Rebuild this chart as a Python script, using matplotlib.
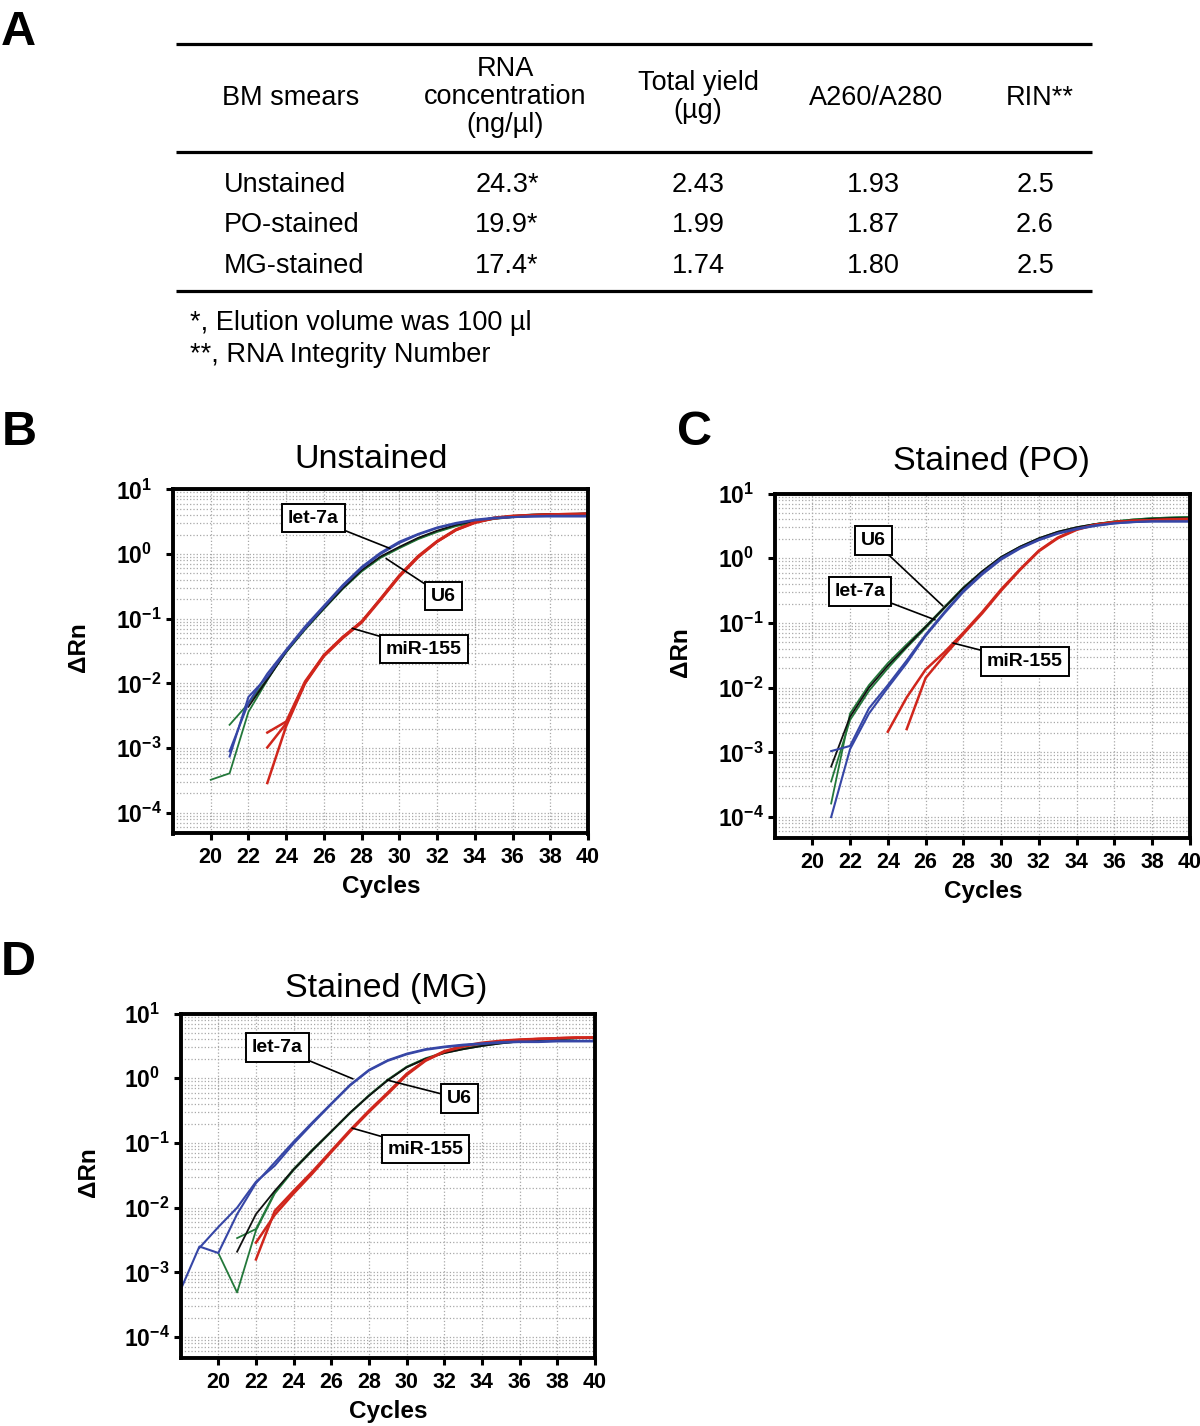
import numpy as np
import matplotlib
matplotlib.use("Agg")
import matplotlib.pyplot as plt
from matplotlib.ticker import LogLocator, NullFormatter

plt.rcParams['font.family'] = ['Liberation Sans', 'DejaVu Sans']
plt.rcParams['mathtext.fontset'] = 'custom'
plt.rcParams['mathtext.rm'] = 'Liberation Sans'
plt.rcParams['mathtext.bf'] = 'Liberation Sans:bold'

nan = np.nan

# ---- panel A table ----
smears = ['Unstained', 'PO-stained', 'MG-stained']
rna_conc = [24.3, 19.9, 17.4]          # ng/ul, marked with *
total_yield = [2.43, 1.99, 1.74]       # ug
a260_a280 = [1.93, 1.87, 1.80]
rin = [2.5, 2.6, 2.5]

# ---- amplification plots: log10(dRn) per cycle, cycles 18..40 ----
cycles = np.arange(18, 41)

# B, unstained
b_let7a_1 = [nan, nan, nan, -3.13, -2.21, -1.90, -1.50, -1.15, -0.82, -0.50, -0.22, 0.00, 0.17, 0.30, 0.40, 0.47, 0.52, 0.55, 0.57, 0.58, 0.59, 0.59, 0.59]
b_let7a_2 = [nan, nan, nan, -3.05, -2.30, -1.85, -1.48, -1.12, -0.80, -0.48, -0.20, 0.02, 0.19, 0.31, 0.41, 0.48, 0.53, 0.56, 0.57, 0.58, 0.58, 0.58, 0.58]
b_u6_1 = [nan, nan, -3.49, -3.39, -2.44, -1.95, -1.50, -1.15, -0.83, -0.52, -0.26, -0.05, 0.10, 0.24, 0.35, 0.44, 0.50, 0.55, 0.57, 0.59, 0.60, 0.61, 0.61]
b_u6_2 = [nan, nan, nan, -2.64, -2.31, -1.93, -1.52, -1.17, -0.85, -0.54, -0.27, -0.06, 0.09, 0.23, 0.34, 0.43, 0.49, 0.54, 0.57, 0.59, 0.60, 0.61, 0.62]
b_u6_3 = [nan, nan, nan, nan, -2.36, -1.94, -1.51, -1.16, -0.84, -0.53, -0.25, -0.04, 0.11, 0.25, 0.36, 0.45, 0.51, 0.56, 0.59, 0.61, 0.62, 0.62, 0.63]
b_mir155_1 = [nan, nan, nan, nan, nan, -2.76, -2.59, -1.97, -1.56, -1.28, -1.05, -0.69, -0.33, -0.03, 0.20, 0.38, 0.49, 0.55, 0.58, 0.59, 0.60, 0.61, 0.62]
b_mir155_2 = [nan, nan, nan, nan, nan, -2.99, -2.62, -1.99, -1.57, -1.29, -1.04, -0.70, -0.34, -0.04, 0.19, 0.37, 0.48, 0.55, 0.58, 0.60, 0.61, 0.62, 0.62]
b_mir155_3 = [nan, nan, nan, nan, nan, -3.54, -2.66, -2.00, -1.58, -1.30, -1.06, -0.71, -0.35, -0.05, 0.19, 0.37, 0.49, 0.56, 0.59, 0.60, 0.61, 0.61, 0.62]

# C, stained (PO)
c_let7a_1 = [nan, nan, nan, -4.00, -2.95, -2.40, -2.00, -1.62, -1.20, -0.85, -0.52, -0.25, -0.02, 0.15, 0.28, 0.38, 0.45, 0.50, 0.54, 0.56, 0.57, 0.57, 0.57]
c_let7a_2 = [nan, nan, nan, -2.98, -2.90, -2.32, -1.96, -1.58, -1.18, -0.83, -0.50, -0.23, 0.00, 0.16, 0.29, 0.39, 0.46, 0.51, 0.54, 0.56, 0.57, 0.57, 0.57]
c_u6_1 = [nan, nan, nan, -3.79, -2.40, -1.96, -1.62, -1.33, -1.05, -0.75, -0.45, -0.20, 0.02, 0.18, 0.31, 0.41, 0.48, 0.53, 0.57, 0.60, 0.62, 0.63, 0.64]
c_u6_2 = [nan, nan, nan, -3.45, -2.50, -2.05, -1.70, -1.38, -1.08, -0.77, -0.47, -0.21, 0.01, 0.17, 0.30, 0.40, 0.47, 0.53, 0.57, 0.60, 0.62, 0.63, 0.64]
c_u6_3 = [nan, nan, nan, -3.22, -2.45, -2.00, -1.66, -1.36, -1.06, -0.76, -0.46, -0.20, 0.02, 0.18, 0.31, 0.41, 0.48, 0.53, 0.56, 0.59, 0.61, 0.62, 0.62]
c_mir155_1 = [nan, nan, nan, nan, nan, nan, -2.68, -2.15, -1.72, -1.45, -1.15, -0.83, -0.48, -0.17, 0.12, 0.32, 0.45, 0.52, 0.56, 0.58, 0.59, 0.60, 0.60]
c_mir155_2 = [nan, nan, nan, nan, nan, nan, nan, -2.64, -1.85, -1.50, -1.17, -0.85, -0.50, -0.18, 0.11, 0.31, 0.44, 0.52, 0.56, 0.58, 0.59, 0.60, 0.61]

# D, stained (MG)
d_let7a_1 = [-3.27, -2.60, -2.70, -2.10, -1.62, -1.30, -0.98, -0.68, -0.39, -0.10, 0.13, 0.28, 0.38, 0.45, 0.49, 0.52, 0.54, 0.56, 0.57, 0.57, 0.58, 0.58, 0.58]
d_let7a_2 = [nan, -2.62, -2.30, -2.00, -1.60, -1.35, -1.01, -0.70, -0.40, -0.11, 0.12, 0.27, 0.37, 0.44, 0.48, 0.51, 0.53, 0.55, 0.56, 0.56, 0.57, 0.57, 0.57]
d_u6_1 = [nan, nan, -2.70, -3.31, -2.35, -1.78, -1.42, -1.12, -0.83, -0.54, -0.27, -0.03, 0.17, 0.30, 0.39, 0.45, 0.50, 0.54, 0.57, 0.59, 0.60, 0.62, 0.63]
d_u6_2 = [nan, nan, nan, -2.47, -2.33, -1.76, -1.40, -1.10, -0.82, -0.53, -0.26, -0.02, 0.18, 0.31, 0.40, 0.46, 0.51, 0.55, 0.58, 0.60, 0.61, 0.62, 0.63]
d_u6_3 = [nan, nan, nan, -2.68, -2.10, -1.74, -1.41, -1.11, -0.82, -0.53, -0.27, -0.03, 0.17, 0.30, 0.39, 0.45, 0.50, 0.54, 0.57, 0.59, 0.61, 0.62, 0.63]
d_mir155_1 = [nan, nan, nan, nan, -2.54, -2.11, -1.78, -1.47, -1.14, -0.82, -0.52, -0.24, 0.05, 0.27, 0.41, 0.49, 0.54, 0.57, 0.59, 0.61, 0.62, 0.63, 0.63]
d_mir155_2 = [nan, nan, nan, nan, -2.80, -2.05, -1.74, -1.44, -1.12, -0.80, -0.50, -0.22, 0.07, 0.28, 0.42, 0.50, 0.55, 0.58, 0.60, 0.61, 0.62, 0.63, 0.63]

BLUE = '#3646a6'
GREEN = '#23783a'
RED = '#d0261c'
BLACK = '#111111'

W, H = 1200, 1426
fig = plt.figure(figsize=(W / 100, H / 100), dpi=100)

# overlay in pixel coords for table and free text
ov = fig.add_axes([0, 0, 1, 1])
ov.set_xlim(0, W)
ov.set_ylim(H, 0)
ov.axis('off')


def px_box(l, t, r, b):
    return [l / W, 1 - b / H, (r - l) / W, (b - t) / H]


# ---- table (A) ----
for y in (44, 152, 291):
    ov.plot([176, 1092], [y, y], color='black', lw=2.3, solid_capstyle='butt')

tfs = 19.5
ov.text(222, 105, 'BM smears', fontsize=tfs, ha='left', va='baseline')
for txt, y in (('RNA', 76), ('concentration', 104), ('(ng/\u00b5l)', 132)):
    ov.text(505, y, txt, fontsize=tfs, ha='center', va='baseline')
for txt, y in (('Total yield', 90), ('(\u00b5g)', 118)):
    ov.text(698, y, txt, fontsize=tfs, ha='center', va='baseline')
ov.text(876, 105, 'A260/A280', fontsize=tfs, ha='center', va='baseline')
ov.text(1040, 105, 'RIN**', fontsize=tfs, ha='center', va='baseline')

row_base = [192, 232, 273]
for i, name in enumerate(smears):
    y = row_base[i]
    ov.text(224, y, name, fontsize=tfs, ha='left', va='baseline')
    ov.text(507, y, f'{rna_conc[i]:.1f}*', fontsize=tfs, ha='center', va='baseline')
    ov.text(698, y, f'{total_yield[i]:.2f}', fontsize=tfs, ha='center', va='baseline')
    ov.text(873, y, f'{a260_a280[i]:.2f}', fontsize=tfs, ha='center', va='baseline')
    ov.text(1035, y, f'{rin[i]:.1f}', fontsize=tfs, ha='center', va='baseline')

ov.text(190, 330, '*, Elution volume was 100 \u00b5l', fontsize=tfs, ha='left', va='baseline')
ov.text(190, 362, '**, RNA Integrity Number', fontsize=tfs, ha='left', va='baseline')

# panel letters
for letter, x, y in (('A', 1, 45), ('B', 2, 445), ('C', 677, 445), ('D', 1, 975)):
    ov.text(x, y, letter, fontsize=35, fontweight='bold', ha='left', va='baseline')


def amp_plot(box, curves, notes, title, title_xy, ylab_xy, xlab_xy):
    ax = fig.add_axes(px_box(*box))
    for vals, color, lw in curves:
        ax.plot(cycles, 10 ** np.array(vals), color=color, lw=lw)
    ax.set_yscale('log')
    ax.set_xlim(18, 40)
    ax.set_ylim(10 ** -4.32, 10)

    decades = [-4, -3, -2, -1, 0, 1]
    ax.set_yticks([10.0 ** d for d in decades],
                  labels=[r'$\mathbf{10^{%d}}$' % d for d in decades])
    ax.yaxis.set_minor_locator(LogLocator(base=10, subs=np.arange(2, 10), numticks=30))
    ax.yaxis.set_minor_formatter(NullFormatter())
    ax.set_xticks(range(20, 41, 2), labels=[str(c) for c in range(20, 41, 2)],
                  fontweight='bold')

    ax.grid(True, which='major', axis='x', ls=':', color='#a8a8a8', lw=0.9)
    ax.grid(True, which='both', axis='y', ls=':', color='#a8a8a8', lw=0.9)
    ax.set_axisbelow(True)

    ax.tick_params(which='major', direction='out', length=5, width=2.2)
    ax.tick_params(axis='x', pad=5, labelsize=15.5)
    ax.tick_params(axis='y', pad=36, labelsize=16.5)
    ax.tick_params(which='minor', length=0)
    for lbl in ax.get_yticklabels():
        lbl.set_horizontalalignment('left')
    for s in ax.spines.values():
        s.set_linewidth(2.8)

    for text, xy, xytext in notes:
        ax.annotate(text, xy=xy, xytext=xytext, textcoords='data',
                    fontsize=14, fontweight='bold', ha='center', va='center',
                    bbox=dict(boxstyle='square,pad=0.3', fc='white', ec='black', lw=1.4),
                    arrowprops=dict(arrowstyle='-', color='black', lw=1.2,
                                    shrinkA=0, shrinkB=0))

    ov.text(title_xy[0], title_xy[1], title, fontsize=24.5, ha='center', va='baseline')
    ov.text(ylab_xy[0], ylab_xy[1], '\u0394Rn', fontsize=17.5, fontweight='bold',
            rotation=90, ha='center', va='center')
    ov.text(xlab_xy[0], xlab_xy[1], 'Cycles', fontsize=17.5, fontweight='bold',
            ha='center', va='baseline')
    return ax


amp_plot((173, 489.3, 588, 833.5),
         [(b_u6_1, GREEN, 1.3), (b_u6_2, GREEN, 1.3), (b_u6_3, BLACK, 1.3),
          (b_mir155_1, RED, 1.8), (b_mir155_2, RED, 1.8), (b_mir155_3, RED, 1.8),
          (b_let7a_1, BLUE, 1.5), (b_let7a_2, BLUE, 1.5)],
         [('let-7a', (29.5, 1.22), (25.44, 3.6)),
          ('U6', (29.3, 0.85), (32.33, 0.224)),
          ('miR-155', (27.5, 0.071), (31.3, 0.034))],
         'Unstained', (371, 468), (79, 647), (381, 893))

amp_plot((774.5, 493.6, 1190, 837.8),
         [(c_u6_1, GREEN, 1.3), (c_u6_2, GREEN, 1.3), (c_u6_3, BLACK, 1.3),
          (c_mir155_1, RED, 1.8), (c_mir155_2, RED, 1.8),
          (c_let7a_1, BLUE, 1.5), (c_let7a_2, BLUE, 1.5)],
         [('U6', (26.92, 0.183), (23.24, 1.88)),
          ('let-7a', (26.5, 0.112), (22.53, 0.31)),
          ('miR-155', (27.45, 0.049), (31.26, 0.0254))],
         'Stained (PO)', (991, 470), (681, 652), (983, 898))

amp_plot((180.6, 1013.6, 595, 1357.8),
         [(d_u6_1, GREEN, 1.3), (d_u6_2, GREEN, 1.3), (d_u6_3, BLACK, 1.3),
          (d_mir155_1, RED, 1.8), (d_mir155_2, RED, 1.8),
          (d_let7a_1, BLUE, 1.5), (d_let7a_2, BLUE, 1.5)],
         [('let-7a', (27.15, 0.98), (23.14, 2.99)),
          ('U6', (28.96, 0.94), (32.81, 0.487)),
          ('miR-155', (27.1, 0.17), (31.0, 0.0807))],
         'Stained (MG)', (386, 997), (88, 1172), (388, 1418))

fig.savefig('out.png', dpi=100)
